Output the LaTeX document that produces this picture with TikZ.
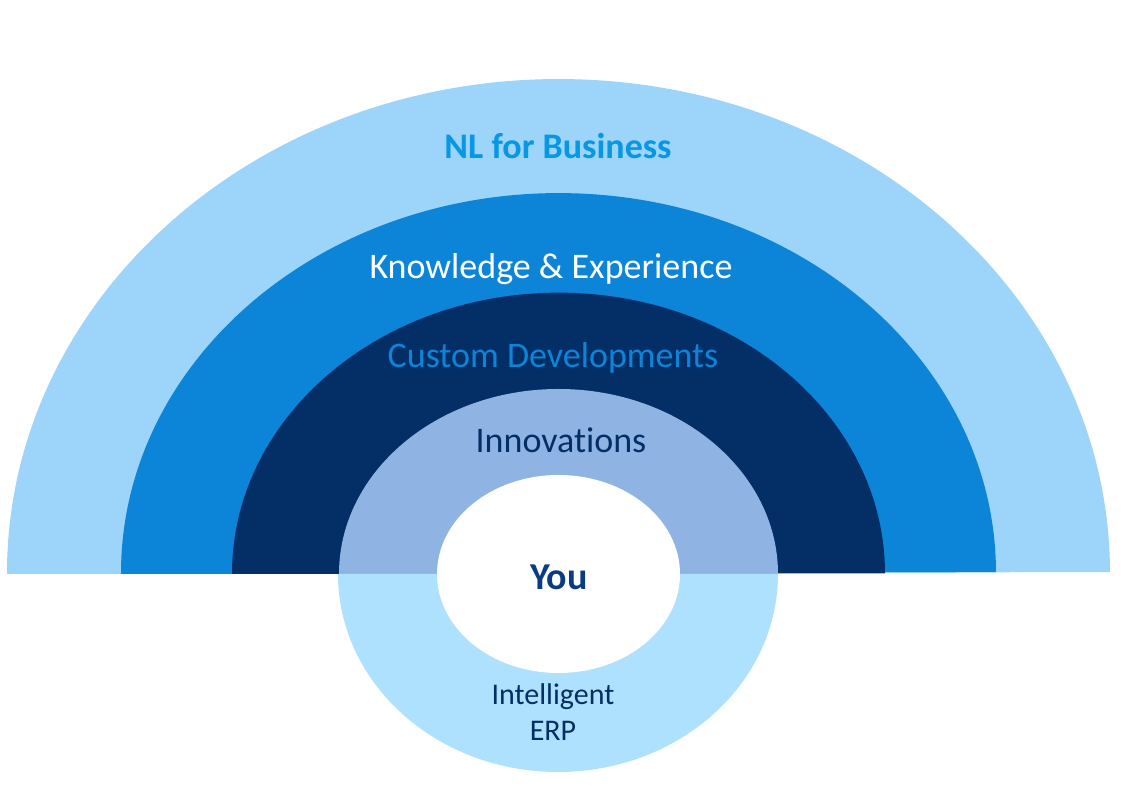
\documentclass[tikz,border=0pt]{standalone}
\usepackage{fontspec}
\setmainfont{Carlito}[Ligatures=NoCommon]
\definecolor{ringone}{HTML}{9CD4FA}
\definecolor{ringtwo}{HTML}{0C85D8}
\definecolor{ringthree}{HTML}{042F66}
\definecolor{ringfour}{HTML}{8FB4E3}
\definecolor{ringlow}{HTML}{ADE1FE}
\definecolor{titleblue}{HTML}{0797E3}
\definecolor{youblue}{HTML}{0B3B82}
\tikzset{
ringlabel/.style={font=\fontsize{36}{40}\selectfont,inner sep=0pt,align=center},
lowlabel/.style={font=\fontsize{30}{36}\selectfont,inner sep=0pt,align=center,text=ringthree}
}
\begin{document}
\begin{tikzpicture}[x=1pt,y=1pt]
\useasboundingbox (0,0) rectangle (1129,794);
% Draw the half rings, outermost first
\foreach \x/\a/\b/\r/\c in {7/551.5pt/494pt/0.1/ringone,121/437.5pt/380pt/0.12/ringtwo,232/326.5pt/281pt/0.06/ringthree,339/219.5pt/185pt/0/ringfour}
{
\fill[\c,rotate around={\r:(\x,220)}] (\x,220) arc[start angle=180,end angle=0,x radius=\a,y radius=\b] -- cycle;
}
% Draw the lower half and the middle
\fill[ringlow] (338,220) arc[start angle=180,end angle=360,x radius=220pt,y radius=198pt] -- cycle;
\fill[white] (558.5,220) ellipse[x radius=121.5pt,y radius=99pt];
% Draw the labels
\node[ringlabel,text=titleblue] (business) at (558,648) {\textbf{NL for Business}};
\node[ringlabel,text=white] (knowledge) at (551,525) {Knowledge \& Experience};
\node[ringlabel,text=ringtwo] (custom) at (553,436) {Custom Developments};
\node[ringlabel,text=ringthree] (innovations) at (561,354) {Innovations};
\node[font=\fontsize{38}{40}\selectfont,inner sep=0pt,text=youblue] (you) at (559,217) {\textbf{You}};
\node[lowlabel] (erp) at (553,82) {Intelligent\\ERP};
\end{tikzpicture}
\end{document}
